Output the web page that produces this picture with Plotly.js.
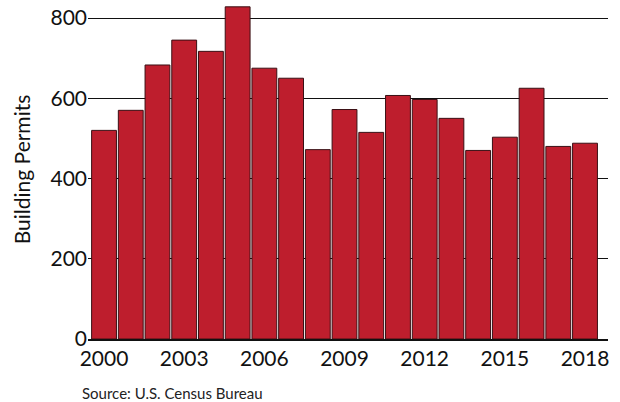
<!DOCTYPE html>
<html><head><script src="https://cdn.plot.ly/plotly-3.0.0.min.js"></script></head>
<body style="margin:0">
<div id="chart" style="width:620px;height:402px"></div>
<script>
var years = [2000,2001,2002,2003,2004,2005,2006,2007,2008,2009,2010,2011,2012,2013,2014,2015,2016,2017,2018];
var permits = [520,570,683,745,717,828,675,650,472,572,515,607,597,550,470,503,625,480,488];
var yTicks = [0,200,400,600,800];

var data = [{
  type: 'bar',
  x: years,
  y: permits,
  width: 0.93,
  marker: {color: '#be1e2d', line: {color: '#3a1015', width: 1}},
  hoverinfo: 'x+y'
}];

var layout = {
  width: 620, height: 402,
  margin: {l: 88, r: 12, t: 0, b: 63},
  paper_bgcolor: 'white', plot_bgcolor: 'white',
  showlegend: false,
  font: {family: 'Lato, DejaVu Sans', color: '#111'},
  xaxis: {
    range: [1999.4, 2018.86],
    tickvals: [2000,2003,2006,2009,2012,2015,2018],
    ticks: '', tickfont: {size: 21},
    showgrid: false, zeroline: false,
    showline: true, linecolor: '#111', linewidth: 2
  },
  yaxis: {
    range: [0, 845],
    tickvals: yTicks,
    ticks: '', tickfont: {size: 21},
    showgrid: true, gridcolor: '#111', gridwidth: 1,
    zeroline: false,
    title: {text: 'Building Permits', font: {size: 21}, standoff: 14}
  },
  annotations: [{
    text: 'Source: U.S. Census Bureau',
    xref: 'paper', yref: 'paper', x: -0.015, y: -0.16,
    xanchor: 'left', yanchor: 'middle', showarrow: false,
    font: {size: 15, color: '#222'}
  }]
};

Plotly.newPlot('chart', data, layout, {displayModeBar: false});
</script>
</body></html>
